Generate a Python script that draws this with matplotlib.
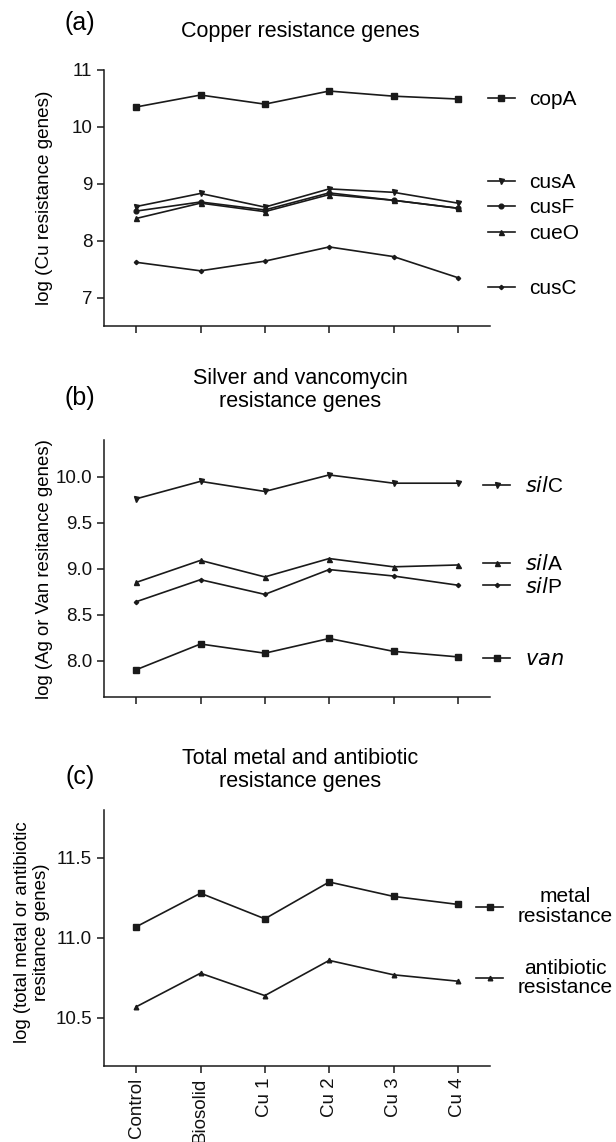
import matplotlib
matplotlib.use("Agg")
import matplotlib.pyplot as plt
from matplotlib.legend import Legend

plt.rcParams['font.family'] = ['Liberation Sans', 'DejaVu Sans']

categories = ["Control", "Biosolid", "Cu 1", "Cu 2", "Cu 3", "Cu 4"]

# Panel (a): copper resistance genes
copA = [10.35, 10.56, 10.40, 10.63, 10.54, 10.49]
cusA = [8.60, 8.83, 8.59, 8.91, 8.85, 8.66]
cusF = [8.52, 8.68, 8.54, 8.84, 8.71, 8.57]
cueO = [8.39, 8.66, 8.51, 8.81, 8.71, 8.57]
cusC = [7.62, 7.47, 7.64, 7.89, 7.72, 7.35]

# Panel (b): silver and vancomycin resistance genes
silC = [9.76, 9.95, 9.84, 10.02, 9.93, 9.93]
silA = [8.85, 9.09, 8.91, 9.11, 9.02, 9.04]
silP = [8.64, 8.88, 8.72, 8.99, 8.92, 8.82]
van = [7.90, 8.18, 8.08, 8.24, 8.10, 8.04]

# Panel (c): totals
metal = [11.07, 11.28, 11.12, 11.35, 11.26, 11.21]
antibiotic = [10.57, 10.78, 10.64, 10.86, 10.77, 10.73]

W, H = 616, 1142
fig = plt.figure(figsize=(W / 100, H / 100), dpi=100)

LC = '#1a1a1a'
LW = 1.2
x = list(range(len(categories)))

def px_axes(top, bottom, left=104, right=490):
    return [left / W, 1 - bottom / H, (right - left) / W, (bottom - top) / H]

def style(ax, ylim, yticks, fmt, show_x=False):
    for s in ['top', 'right']:
        ax.spines[s].set_visible(False)
    for s in ['left', 'bottom']:
        ax.spines[s].set_linewidth(1.1)
        ax.spines[s].set_color(LC)
    ax.set_xlim(-0.5, 5.5)
    ax.set_ylim(*ylim)
    ax.set_yticks(yticks)
    ax.set_yticklabels([fmt.format(v) for v in yticks])
    ax.set_xticks(x)
    if show_x:
        ax.set_xticklabels(categories, rotation=90, va='top', ha='center')
    else:
        ax.set_xticklabels([])
    ax.tick_params(axis='both', length=5, width=1.1, color=LC, labelsize=13.5,
                   pad=3.5, labelcolor='#111111')

def add_entry(ax, line, label, xa, ya, center=False):
    leg = Legend(ax, [line], [label], loc='center left', bbox_to_anchor=(xa, ya),
                 bbox_transform=ax.transAxes, frameon=False, fontsize=15,
                 handlelength=1.3, handletextpad=0.7, borderpad=0,
                 borderaxespad=0, labelspacing=0)
    if center:
        for t in leg.get_texts():
            t.set_multialignment('center')
            t.set_linespacing(1.05)
    ax.add_artist(leg)
    return leg

# ---------- Panel (a) ----------
axa = fig.add_axes(px_axes(70, 326))
la = {}
la['copA'], = axa.plot(x, copA, color=LC, lw=LW, marker='s', ms=3.8)
la['cusA'], = axa.plot(x, cusA, color=LC, lw=LW, marker='v', ms=3.6)
la['cusF'], = axa.plot(x, cusF, color=LC, lw=LW, marker='o', ms=3.4)
la['cueO'], = axa.plot(x, cueO, color=LC, lw=LW, marker='^', ms=3.6)
la['cusC'], = axa.plot(x, cusC, color=LC, lw=LW, marker='D', ms=2.2)
style(axa, (6.5, 11.0), [7, 8, 9, 10, 11], "{:g}")
for name, ya in [('copA', 0.8855), ('cusA', 0.561), ('cusF', 0.462),
                 ('cueO', 0.362), ('cusC', 0.147)]:
    add_entry(axa, la[name], name, 0.994, ya)
fig.text(80 / W, 1 - 23 / H, "(a)", fontsize=18, ha='center', va='center')
fig.text(300 / W, 1 - 32 / H, "Copper resistance genes", fontsize=15.5,
         ha='center', va='center')
fig.text(45 / W, 1 - 198 / H, "log (Cu resistance genes)", fontsize=13.6,
         rotation=90, ha='center', va='center')

# ---------- Panel (b) ----------
axb = fig.add_axes(px_axes(440, 697.3))
lb = {}
lb['silC'], = axb.plot(x, silC, color=LC, lw=LW, marker='v', ms=3.6)
lb['silA'], = axb.plot(x, silA, color=LC, lw=LW, marker='^', ms=3.6)
lb['silP'], = axb.plot(x, silP, color=LC, lw=LW, marker='D', ms=2.2)
lb['van'], = axb.plot(x, van, color=LC, lw=LW, marker='s', ms=3.8)
style(axb, (7.6, 10.4), [8.0, 8.5, 9.0, 9.5, 10.0], "{:.1f}")
for name, lab, ya in [('silC', r'$\it{sil}$C', 0.822), ('silA', r'$\it{sil}$A', 0.517),
                      ('silP', r'$\it{sil}$P', 0.430), ('van', r'$\it{van}$', 0.145)]:
    add_entry(axb, lb[name], lab, 0.982, ya)
fig.text(80 / W, 1 - 398 / H, "(b)", fontsize=18, ha='center', va='center')
fig.text(300 / W, 1 - 390 / H, "Silver and vancomycin\nresistance genes", fontsize=15.5,
         ha='center', va='center', linespacing=1.15)
fig.text(45 / W, 1 - 569 / H, "log (Ag or Van resitance genes)", fontsize=13.4,
         rotation=90, ha='center', va='center')

# ---------- Panel (c) ----------
axc = fig.add_axes(px_axes(810, 1066))
lc = {}
lc['metal'], = axc.plot(x, metal, color=LC, lw=LW, marker='s', ms=3.8)
lc['antibiotic'], = axc.plot(x, antibiotic, color=LC, lw=LW, marker='^', ms=3.3)
style(axc, (10.2, 11.8), [10.5, 11.0, 11.5], "{:.1f}", show_x=True)
add_entry(axc, lc['metal'], "metal\nresistance", 0.964, 0.6223, center=True)
add_entry(axc, lc['antibiotic'], "antibiotic\nresistance", 0.964, 0.3438, center=True)
fig.text(80 / W, 1 - 777 / H, "(c)", fontsize=18, ha='center', va='center')
fig.text(300 / W, 1 - 770 / H, "Total metal and antibiotic\nresistance genes", fontsize=15.5,
         ha='center', va='center', linespacing=1.15)
fig.text(32 / W, 1 - 932 / H, "log (total metal or antibiotic\nresitance genes)",
         fontsize=13.4, rotation=90, ha='center', va='center', linespacing=1.1,
         multialignment='center')

fig.savefig("out.png", dpi=100, facecolor='white')
